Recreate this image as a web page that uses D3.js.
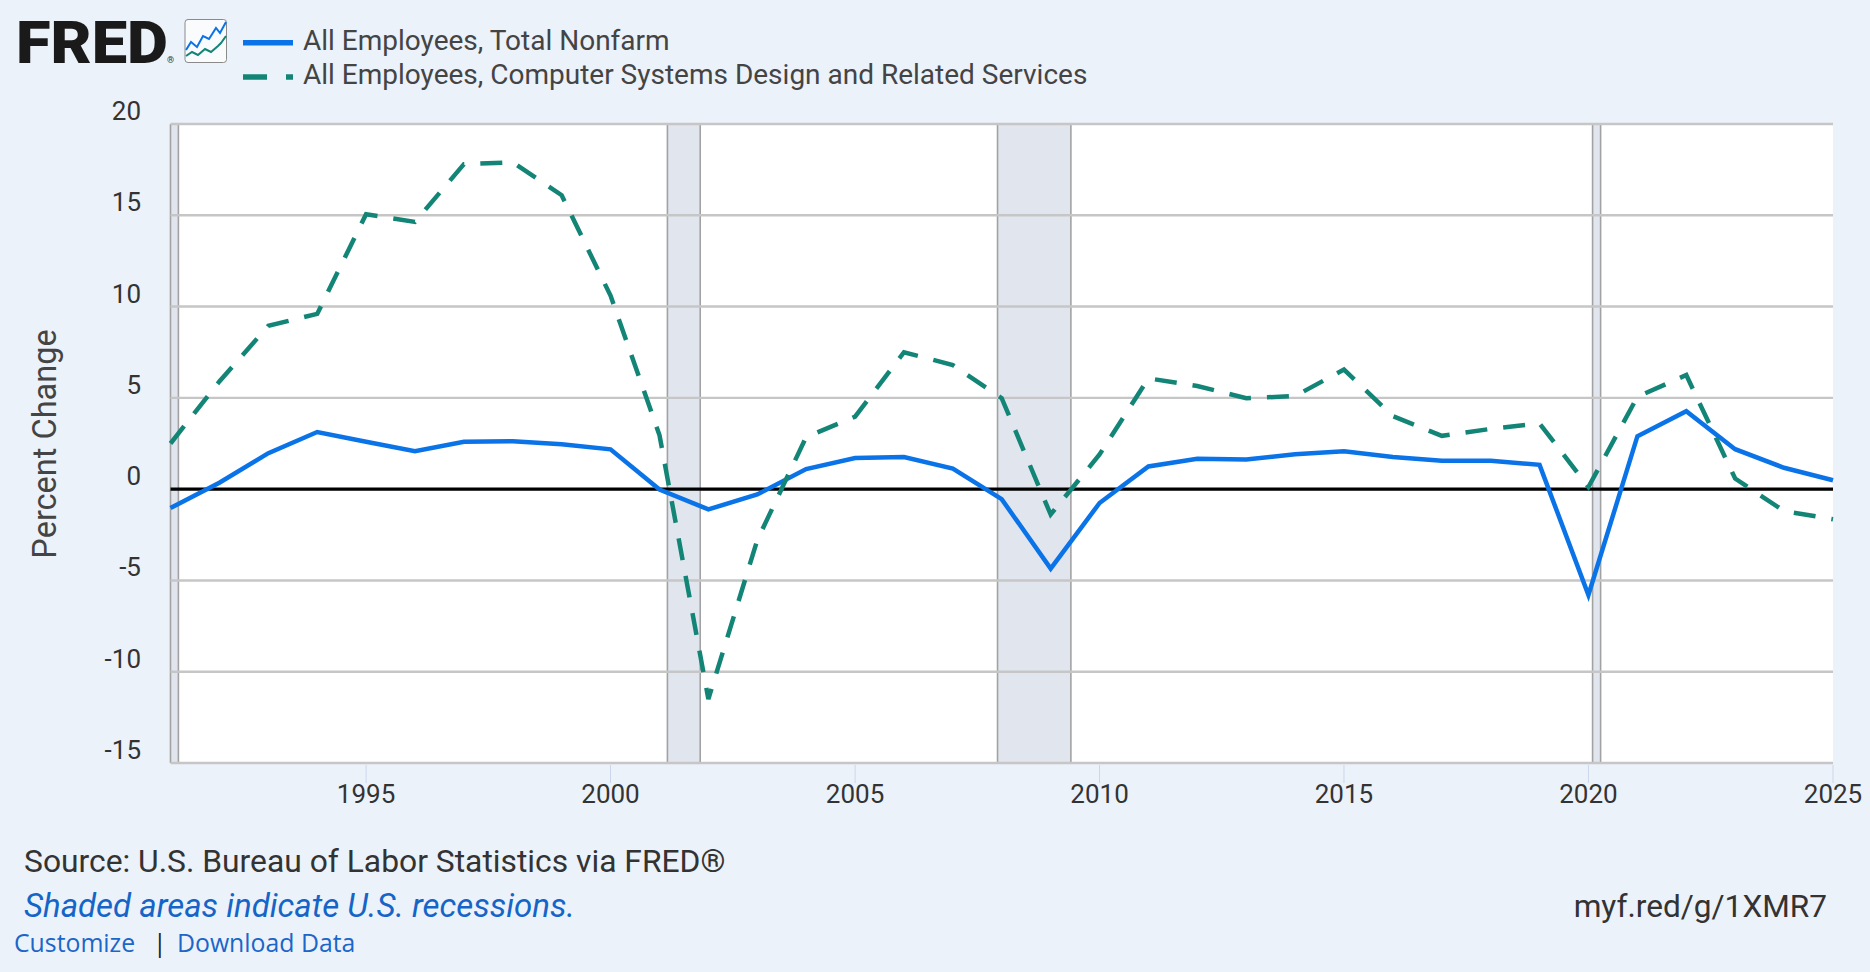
<!DOCTYPE html>
<html>
<head>
<meta charset="utf-8">
<script src="https://cdn.jsdelivr.net/npm/d3@7"></script>
<style>
  html, body { margin: 0; padding: 0; background: #ecf2fa; }
  svg { display: block; font-family: Roboto, "Open Sans", sans-serif; }
</style>
</head>
<body>
<script>
// annual data, percent change from year ago
var years = [1991, 1992, 1993, 1994, 1995, 1996, 1997, 1998, 1999, 2000,
  2001, 2002, 2003, 2004, 2005, 2006, 2007, 2008, 2009, 2010,
  2011, 2012, 2013, 2014, 2015, 2016, 2017, 2018, 2019, 2020,
  2021, 2022, 2023, 2024, 2025];

var nonfarm = [-1.03, 0.35, 1.97, 3.13, 2.6, 2.08, 2.6, 2.62, 2.46, 2.18,
  -0.02, -1.11, -0.29, 1.1, 1.7, 1.76, 1.13, -0.55, -4.35, -0.76,
  1.24, 1.66, 1.62, 1.91, 2.08, 1.76, 1.55, 1.55, 1.33, -5.8,
  2.9, 4.27, 2.19, 1.17, 0.49];

var computerSystems = [2.5, 5.9, 8.95, 9.6, 15.06, 14.64, 17.8, 17.9, 16.1, 10.6,
  2.95, -11.5, -2.8, 2.85, 3.97, 7.5, 6.8, 4.98, -1.39, 1.9,
  6.07, 5.65, 4.98, 5.1, 6.55, 4.0, 2.92, 3.3, 3.6, 0.12,
  5.06, 6.25, 0.58, -1.2, -1.65];

var seriesNames = ["All Employees, Total Nonfarm",
  "All Employees, Computer Systems Design and Related Services"];

var recessions = [["1990-07-01", "1991-03-01"], ["2001-03-01", "2001-11-01"],
  ["2007-12-01", "2009-06-01"], ["2020-02-01", "2020-04-01"]];

var yTicks = [-15, -10, -5, 0, 5, 10, 15, 20];
var xTicks = [1995, 2000, 2005, 2010, 2015, 2020, 2025];

var W = 1870, H = 972;
var margin = {top: 124, right: 37, bottom: 209, left: 170.5};
var blue = "#0b73e8", teal = "#138577";

var parse = d3.timeParse("%Y-%m-%d");

var svg = d3.select("body").append("svg")
  .attr("width", W)
  .attr("height", H);

svg.append("rect").attr("width", W).attr("height", H).attr("fill", "#ecf2fa");

var x = d3.scaleTime()
  .domain([new Date(1991, 0, 1), new Date(2025, 0, 1)])
  .range([margin.left, W - margin.right]);

var y = d3.scaleLinear()
  .domain([-15, 20])
  .range([H - margin.bottom, margin.top]);

// plot background
svg.append("rect")
  .attr("x", x.range()[0]).attr("y", y(20))
  .attr("width", x.range()[1] - x.range()[0])
  .attr("height", y(-15) - y(20))
  .attr("fill", "#ffffff");

// recession bars
var rec = svg.append("g");
recessions.forEach(function(r) {
  var a = Math.max(x(parse(r[0])), x.range()[0]);
  var b = x(parse(r[1]));
  rec.append("rect")
    .attr("x", a).attr("y", y(20))
    .attr("width", b - a).attr("height", y(-15) - y(20))
    .attr("fill", "#e1e6ee");
  [a, b].forEach(function(px) {
    rec.append("line")
      .attr("x1", px).attr("x2", px)
      .attr("y1", y(20)).attr("y2", y(-15))
      .attr("stroke", "#a2a2a2").attr("stroke-width", 1.6);
  });
});

// horizontal grid
svg.append("g")
  .selectAll("line")
  .data(yTicks)
  .join("line")
  .attr("x1", x.range()[0]).attr("x2", x.range()[1])
  .attr("y1", d => y(d)).attr("y2", d => y(d))
  .attr("stroke", "#c6c6c6")
  .attr("stroke-width", 2.4);

// y tick labels
svg.append("g")
  .selectAll("text")
  .data(yTicks)
  .join("text")
  .attr("x", 141)
  .attr("y", d => y(d) - 4)
  .attr("text-anchor", "end")
  .attr("font-size", 26)
  .attr("fill", "#333")
  .text(d => d);

// x axis ticks + labels
var xa = svg.append("g");
xa.selectAll("line")
  .data(xTicks)
  .join("line")
  .attr("x1", d => x(new Date(d, 0, 1))).attr("x2", d => x(new Date(d, 0, 1)))
  .attr("y1", y(-15) + 2).attr("y2", y(-15) + 20)
  .attr("stroke", "#ccd6eb").attr("stroke-width", 1);
xa.selectAll("text")
  .data(xTicks)
  .join("text")
  .attr("x", d => x(new Date(d, 0, 1)))
  .attr("y", 803)
  .attr("text-anchor", "middle")
  .attr("font-size", 26)
  .attr("fill", "#333")
  .text(d => d);

// zero line
svg.append("line")
  .attr("x1", x.range()[0]).attr("x2", x.range()[1])
  .attr("y1", y(0)).attr("y2", y(0))
  .attr("stroke", "#000").attr("stroke-width", 3.2);

// y axis title
svg.append("text")
  .attr("transform", "translate(56,444) rotate(-90)")
  .attr("text-anchor", "middle")
  .attr("font-size", 32.5)
  .attr("fill", "#444")
  .text("Percent Change");

var line = d3.line()
  .x((d, i) => x(new Date(years[i], 0, 1)))
  .y(d => y(d));

svg.append("path")
  .datum(nonfarm)
  .attr("d", line)
  .attr("fill", "none")
  .attr("stroke", blue)
  .attr("stroke-width", 4.5)
  .attr("stroke-linejoin", "miter");

svg.append("path")
  .datum(computerSystems)
  .attr("d", line)
  .attr("fill", "none")
  .attr("stroke", teal)
  .attr("stroke-width", 4.5)
  .attr("stroke-dasharray", "22,16")
  .attr("stroke-linejoin", "miter");

// logo
var logo = svg.append("g");
logo.append("text")
  .attr("x", 16).attr("y", 62.5)
  .attr("font-size", 60)
  .attr("font-weight", 900)
  .attr("textLength", 152)
  .attr("lengthAdjust", "spacingAndGlyphs")
  .attr("fill", "#1a1a1a")
  .text("FRED");
logo.append("text")
  .attr("x", 167).attr("y", 63)
  .attr("font-size", 9)
  .attr("fill", "#333")
  .text("®");
logo.append("rect")
  .attr("x", 185).attr("y", 19.5).attr("width", 41.5).attr("height", 43)
  .attr("rx", 3).attr("fill", "#fafbfd")
  .attr("stroke", "#8a8a8a").attr("stroke-width", 1);
logo.append("polyline")
  .attr("points", "186,50 191,42 197,47 203,36 209,39 216,28 220,33 226,22")
  .attr("fill", "none").attr("stroke", blue).attr("stroke-width", 2);
logo.append("polyline")
  .attr("points", "186,56 192,52 198,55 205,49 211,52 218,46 221,43 226,36")
  .attr("fill", "none").attr("stroke", teal).attr("stroke-width", 2);

// legend
var leg = svg.append("g");
leg.append("line")
  .attr("x1", 243).attr("x2", 293).attr("y1", 42.7).attr("y2", 42.7)
  .attr("stroke", blue).attr("stroke-width", 5.5);
leg.append("line")
  .attr("x1", 243).attr("x2", 293).attr("y1", 77).attr("y2", 77)
  .attr("stroke", teal).attr("stroke-width", 5.5)
  .attr("stroke-dasharray", "24,19");
leg.selectAll("text")
  .data(seriesNames)
  .join("text")
  .attr("x", 303)
  .attr("y", (d, i) => 49.5 + i * 34)
  .attr("font-size", 28)
  .attr("fill", "#444")
  .text(d => d);

// footer
svg.append("text")
  .attr("x", 24).attr("y", 872)
  .attr("font-size", 31.8)
  .attr("fill", "#333")
  .text("Source: U.S. Bureau of Labor Statistics via FRED®");
svg.append("text")
  .attr("x", 24).attr("y", 917)
  .attr("font-size", 33)
  .attr("font-style", "italic")
  .attr("fill", "#1565c8")
  .text("Shaded areas indicate U.S. recessions.");
svg.append("text")
  .attr("x", 1827).attr("y", 917)
  .attr("text-anchor", "end")
  .attr("font-size", 31.6)
  .attr("fill", "#333")
  .text("myf.red/g/1XMR7");

var links = svg.append("g")
  .attr("font-family", "'Open Sans', sans-serif")
  .attr("font-size", 24.8)
  .attr("fill", "#1a66c9");
links.append("text").attr("x", 14).attr("y", 952).text("Customize");
links.append("text").attr("x", 153).attr("y", 952).attr("fill", "#222").text("|");
links.append("text").attr("x", 177).attr("y", 952).text("Download Data");
</script>
</body>
</html>
